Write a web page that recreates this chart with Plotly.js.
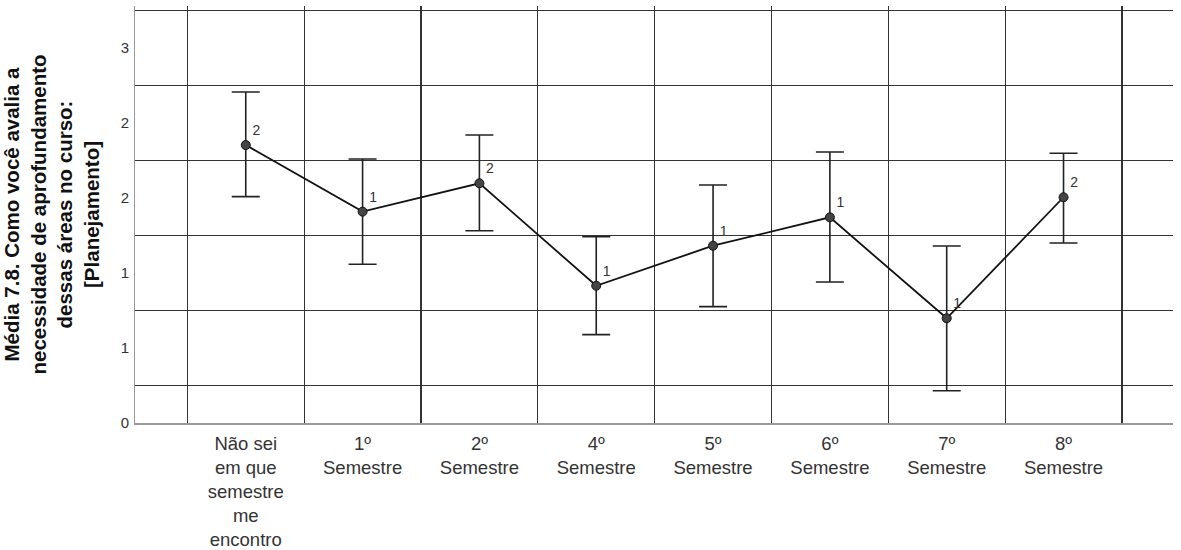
<!DOCTYPE html>
<html>
<head>
<meta charset="utf-8">
<script src="https://cdn.plot.ly/plotly-3.0.1.min.js"></script>
<style>html,body{margin:0;padding:0;background:#fff;}</style>
</head>
<body>
<div id="chart" style="width:1181px;height:550px;"></div>
<script>
const categories = [
  "Não sei<br>em que<br>semestre<br>me<br>encontro",
  "1º<br>Semestre",
  "2º<br>Semestre",
  "4º<br>Semestre",
  "5º<br>Semestre",
  "6º<br>Semestre",
  "7º<br>Semestre",
  "8º<br>Semestre"
];
const means   = [1.853, 1.409, 1.598, 0.915, 1.182, 1.371, 0.698, 1.505];
const upper   = [2.207, 1.760, 1.920, 1.242, 1.587, 1.807, 1.180, 1.798];
const lower   = [1.509, 1.058, 1.282, 0.589, 0.776, 0.940, 0.215, 1.200];
const counts  = ["2", "1", "2", "1", "1", "1", "1", "2"];
const yTickVals  = [0, 0.5, 1, 1.5, 2, 2.5];
const yTickText  = ["0", "1", "1", "2", "2", "3"];
const yGridVals  = [0.25, 0.75, 1.25, 1.75, 2.25, 2.75];
const yTitle = "Média 7.8. Como você avalia a<br>necessidade de aprofundamento<br>dessas áreas no curso:<br>[Planejamento]";

const errPlus  = upper.map((u, i) => u - means[i]);
const errMinus = means.map((m, i) => m - lower[i]);

const trace = {
  type: "scatter",
  mode: "lines+markers+text",
  x: categories,
  y: means,
  text: counts,
  textposition: "top right",
  textfont: {family: "Liberation Sans, Arial, sans-serif", size: 14, color: "#333"},
  line: {color: "#111", width: 1.8},
  marker: {size: 9, color: "#444", line: {color: "#111", width: 1}},
  error_y: {
    type: "data", symmetric: false,
    array: errPlus, arrayminus: errMinus,
    color: "#222", thickness: 1.6, width: 14
  },
  cliponaxis: false,
  showlegend: false,
  hoverinfo: "skip"
};

const dummy = {
  type: "scatter", mode: "markers", x: [categories[0]], y: [0],
  yaxis: "y2", marker: {opacity: 0}, showlegend: false, hoverinfo: "skip"
};

const layout = {
  width: 1181, height: 550,
  margin: {l: 135, r: 8, t: 6, b: 127},
  paper_bgcolor: "#fff", plot_bgcolor: "#fff",
  font: {family: "Liberation Sans, Arial, sans-serif", color: "#333"},
  xaxis: {
    type: "category",
    categoryorder: "array", categoryarray: categories,
    range: [-0.948, 7.937],
    tickson: "boundaries",
    ticks: "",
    showgrid: true, gridcolor: "#333", gridwidth: 1.2,
    showline: true, linecolor: "#999", linewidth: 1.5,
    zeroline: false,
    tickfont: {family: "Liberation Sans, Arial, sans-serif", size: 18.5, color: "#333"},
    ticklabelstandoff: 3,
    fixedrange: true
  },
  yaxis: {
    range: [0, 2.78],
    tickvals: yGridVals,
    showticklabels: false,
    ticks: "",
    showgrid: true, gridcolor: "#333", gridwidth: 1.2,
    showline: true, linecolor: "#999", linewidth: 1.5,
    zeroline: false,
    title: {
      text: yTitle,
      font: {family: "Liberation Sans, Arial, sans-serif", size: 20.5, color: "#111", weight: "bold"},
      standoff: 34
    },
    automargin: false,
    fixedrange: true
  },
  yaxis2: {
    overlaying: "y", side: "left",
    range: [0, 2.78],
    tickvals: yTickVals, ticktext: yTickText,
    showgrid: false, zeroline: false, showline: false,
    ticks: "",
    tickfont: {family: "Liberation Sans, Arial, sans-serif", size: 15, color: "#333"},
    ticklabelstandoff: 5,
    automargin: false,
    fixedrange: true
  }
};

Plotly.newPlot("chart", [dummy, trace], layout, {displayModeBar: false, staticPlot: true});
</script>
</body>
</html>
